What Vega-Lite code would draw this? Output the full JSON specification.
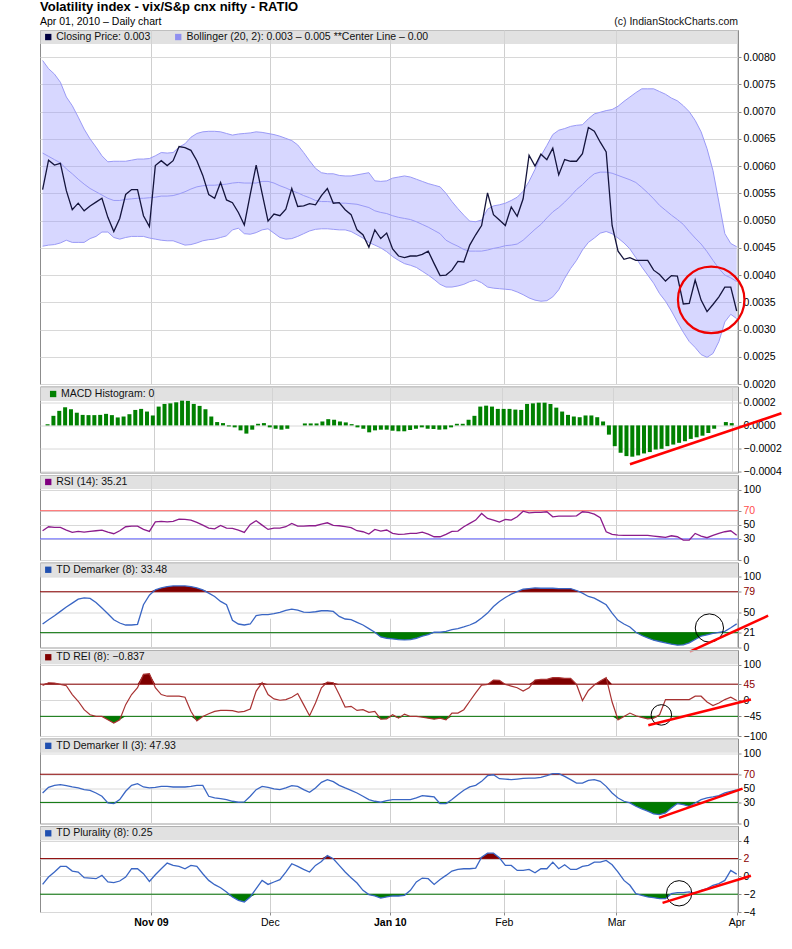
{
"$schema":"https://vega.github.io/schema/vega-lite/v6.json",
"background":"white",
"padding":{"left":32,"top":0,"right":0,"bottom":0},
"title":{"text":"Volatility index - vix/S&p cnx nifty - RATIO","subtitle":"Apr 01, 2010 – Daily chart","anchor":"start","frame":"group","font":"Liberation Sans","fontSize":13,"fontWeight":"bold","color":"#000000","subtitleFont":"Liberation Sans","subtitleFontSize":10.5,"subtitleColor":"#000000","subtitlePadding":3,"offset":-11},
"config":{"view":{"stroke":"#8c8c8c","strokeWidth":1}},
"data":{"values":[
{"i":0,"c":0.00557,"u":0.00794,"m":0.00624,"l":0.00453,"h":0.00001,"r":41.5,"d":33.3,"e":41.5,"d2":43.4,"p":-0.9},
{"i":1,"c":0.00611,"u":0.00779,"m":0.00618,"l":0.00455,"h":0.000083,"r":47.2,"d":39.4,"e":49,"d2":51.4,"p":-0.07},
{"i":2,"c":0.00602,"u":0.00769,"m":0.00612,"l":0.00456,"h":0.000126,"r":46.2,"d":45.1,"e":48,"d2":54.2,"p":0.49},
{"i":3,"c":0.00605,"u":0.00754,"m":0.00606,"l":0.00459,"h":0.000157,"r":46.2,"d":51.2,"e":44.3,"d2":55.2,"p":1.12},
{"i":4,"c":0.00555,"u":0.00727,"m":0.00595,"l":0.00464,"h":0.00014,"r":42.5,"d":57.3,"e":40.6,"d2":53.8,"p":1.12},
{"i":5,"c":0.0052,"u":0.00711,"m":0.00586,"l":0.0046,"h":0.00011,"r":39.2,"d":62.9,"e":16,"d2":51.9,"p":0.6},
{"i":6,"c":0.00532,"u":0.0069,"m":0.00576,"l":0.0046,"h":0.000091,"r":40.6,"d":68.5,"e":-2.8,"d2":50.5,"p":0.49},
{"i":7,"c":0.00518,"u":0.00668,"m":0.00567,"l":0.0046,"h":0.000089,"r":39.6,"d":70.4,"e":-26.4,"d2":48.1,"p":-0.15},
{"i":8,"c":0.00527,"u":0.0065,"m":0.00559,"l":0.00467,"h":0.000089,"r":40.6,"d":69.5,"e":-40.6,"d2":47.2,"p":-0.19},
{"i":9,"c":0.00534,"u":0.00635,"m":0.00553,"l":0.00471,"h":0.000091,"r":41.5,"d":63.8,"e":-45.3,"d2":43.4,"p":-0.26},
{"i":10,"c":0.00541,"u":0.00619,"m":0.00547,"l":0.00479,"h":0.0001,"r":42.5,"d":55.9,"e":-45.3,"d2":38.7,"p":0.11},
{"i":11,"c":0.00506,"u":0.00608,"m":0.00541,"l":0.00479,"h":0.000089,"r":39.6,"d":47.9,"e":-54.7,"d2":29.2,"p":-0.63},
{"i":12,"c":0.0048,"u":0.00609,"m":0.00537,"l":0.00469,"h":0.000069,"r":37.3,"d":39.4,"e":-64,"d2":28.3,"p":-0.71},
{"i":13,"c":0.00504,"u":0.00609,"m":0.00537,"l":0.00466,"h":0.000077,"r":41.5,"d":34.7,"e":-54.7,"d2":34,"p":-0.52},
{"i":14,"c":0.00548,"u":0.00609,"m":0.00539,"l":0.00469,"h":0.000097,"r":47.2,"d":31.9,"e":-12.3,"d2":45.8,"p":-0.07},
{"i":15,"c":0.00557,"u":0.00611,"m":0.0054,"l":0.00471,"h":0.000134,"r":48.1,"d":31.9,"e":16,"d2":54.2,"p":0.86},
{"i":16,"c":0.00557,"u":0.00613,"m":0.00541,"l":0.00471,"h":0.000143,"r":48.1,"d":32.9,"e":35,"d2":56.6,"p":0.86},
{"i":17,"c":0.00509,"u":0.00613,"m":0.00541,"l":0.00471,"h":0.00012,"r":43.4,"d":60.6,"e":72.6,"d2":51.9,"p":0.3},
{"i":18,"c":0.00489,"u":0.00614,"m":0.00542,"l":0.00468,"h":0.000086,"r":40.6,"d":74.2,"e":74.5,"d2":50.5,"p":-0.56},
{"i":19,"c":0.00601,"u":0.00619,"m":0.00543,"l":0.00466,"h":0.000163,"r":54.2,"d":81.7,"e":35,"d2":51.4,"p":0.19},
{"i":20,"c":0.0061,"u":0.00625,"m":0.00545,"l":0.00464,"h":0.000186,"r":54.7,"d":84.5,"e":16,"d2":52.8,"p":0.86},
{"i":21,"c":0.00601,"u":0.00624,"m":0.00545,"l":0.00463,"h":0.000191,"r":54.2,"d":86.4,"e":11.3,"d2":52.8,"p":1.49},
{"i":22,"c":0.0061,"u":0.00625,"m":0.00546,"l":0.00463,"h":0.0002,"r":54.7,"d":87.3,"e":11.3,"d2":51.9,"p":1.23},
{"i":23,"c":0.00636,"u":0.00635,"m":0.00549,"l":0.00459,"h":0.00022,"r":58,"d":87.3,"e":11.3,"d2":51.9,"p":1.12},
{"i":24,"c":0.00634,"u":0.00641,"m":0.00553,"l":0.00455,"h":0.000214,"r":57.5,"d":87.3,"e":8.5,"d2":51.9,"p":0.86},
{"i":25,"c":0.00629,"u":0.00653,"m":0.00558,"l":0.00456,"h":0.000186,"r":56.6,"d":86.4,"e":-31,"d2":52.8,"p":1.23},
{"i":26,"c":0.0061,"u":0.0066,"m":0.00562,"l":0.00459,"h":0.000169,"r":53.3,"d":84.5,"e":-57.5,"d2":54.2,"p":1.12},
{"i":27,"c":0.00583,"u":0.00663,"m":0.00564,"l":0.00463,"h":0.00014,"r":49.5,"d":81.7,"e":-45.3,"d2":54.2,"p":0.3},
{"i":28,"c":0.00548,"u":0.00664,"m":0.00565,"l":0.00465,"h":0.000077,"r":45.3,"d":77,"e":-37.7,"d2":38.7,"p":-0.45},
{"i":29,"c":0.00541,"u":0.00664,"m":0.00565,"l":0.00466,"h":0.000029,"r":44.3,"d":72.3,"e":-31,"d2":36.3,"p":-0.93},
{"i":30,"c":0.0057,"u":0.00663,"m":0.00566,"l":0.00469,"h":0.00002,"r":49.1,"d":65.3,"e":-28.3,"d2":35.4,"p":-1.27},
{"i":31,"c":0.00538,"u":0.0066,"m":0.00567,"l":0.00472,"h":-0.000009,"r":45.3,"d":60.6,"e":-28.3,"d2":34,"p":-1.75},
{"i":32,"c":0.00533,"u":0.00657,"m":0.00569,"l":0.00483,"h":-0.000017,"r":44.8,"d":38.5,"e":-29.2,"d2":31.6,"p":-2.31},
{"i":33,"c":0.00515,"u":0.00659,"m":0.0057,"l":0.00486,"h":-0.000043,"r":42.5,"d":33.3,"e":-33,"d2":30.2,"p":-2.69},
{"i":34,"c":0.00492,"u":0.0066,"m":0.00569,"l":0.00476,"h":-0.000071,"r":39.2,"d":31.9,"e":-31,"d2":30.7,"p":-2.87},
{"i":35,"c":0.00548,"u":0.00661,"m":0.00569,"l":0.00475,"h":-0.000037,"r":50.5,"d":33.3,"e":-24.5,"d2":38.7,"p":-2.31},
{"i":36,"c":0.00602,"u":0.00663,"m":0.00569,"l":0.00478,"h":0.000014,"r":55.7,"d":45.1,"e":25.5,"d2":48.1,"p":-1.38},
{"i":37,"c":0.0055,"u":0.00662,"m":0.00572,"l":0.00483,"h":0.00002,"r":49.5,"d":46.5,"e":49,"d2":52.8,"p":-0.45},
{"i":38,"c":0.00499,"u":0.0066,"m":0.00572,"l":0.00485,"h":-0.000017,"r":43.4,"d":46.5,"e":16,"d2":51.4,"p":-0.9},
{"i":39,"c":0.00512,"u":0.00658,"m":0.00569,"l":0.00477,"h":-0.000029,"r":45.3,"d":47.9,"e":3.8,"d2":49.1,"p":-0.63},
{"i":40,"c":0.00509,"u":0.00655,"m":0.00564,"l":0.00469,"h":-0.000037,"r":45.3,"d":49.8,"e":0,"d2":48.1,"p":-0.37},
{"i":41,"c":0.00521,"u":0.00651,"m":0.0056,"l":0.00466,"h":-0.000029,"r":47.2,"d":52.6,"e":1.9,"d2":50.5,"p":0.49},
{"i":42,"c":0.00559,"u":0.00647,"m":0.00555,"l":0.00467,"h":0,"r":51.9,"d":54.5,"e":8.5,"d2":53.8,"p":1.42},
{"i":43,"c":0.00526,"u":0.00639,"m":0.00551,"l":0.00471,"h":0,"r":48.1,"d":53,"e":18.9,"d2":52.8,"p":1.12},
{"i":44,"c":0.00527,"u":0.00625,"m":0.00546,"l":0.00476,"h":0.000017,"r":48.1,"d":50.2,"e":-12.3,"d2":48.1,"p":0.78},
{"i":45,"c":0.00531,"u":0.0061,"m":0.00542,"l":0.00481,"h":0.000017,"r":48.6,"d":49.8,"e":-43.4,"d2":44.3,"p":0.49},
{"i":46,"c":0.00529,"u":0.00596,"m":0.00537,"l":0.00484,"h":0.000017,"r":48.6,"d":50.7,"e":-7.5,"d2":50.5,"p":1.23},
{"i":47,"c":0.00546,"u":0.00588,"m":0.00535,"l":0.00485,"h":0.000034,"r":50.9,"d":52.1,"e":35,"d2":58.5,"p":1.68},
{"i":48,"c":0.00559,"u":0.00586,"m":0.00535,"l":0.00485,"h":0.000054,"r":52.8,"d":52.1,"e":51,"d2":62.3,"p":2.35},
{"i":49,"c":0.00532,"u":0.00586,"m":0.00534,"l":0.00484,"h":0.000049,"r":49.1,"d":51.2,"e":49,"d2":59.4,"p":1.98},
{"i":50,"c":0.00533,"u":0.00583,"m":0.00532,"l":0.00483,"h":0.000034,"r":48.6,"d":44.1,"e":16,"d2":54.2,"p":1.23},
{"i":51,"c":0.0052,"u":0.00582,"m":0.00532,"l":0.00483,"h":0.000026,"r":47.2,"d":40.4,"e":-18.9,"d2":50.5,"p":0.49},
{"i":52,"c":0.00511,"u":0.00582,"m":0.00531,"l":0.0048,"h":0.000011,"r":45.8,"d":39.4,"e":-17,"d2":47.2,"p":-0.15},
{"i":53,"c":0.00483,"u":0.00584,"m":0.0053,"l":0.00474,"h":-0.000017,"r":41.5,"d":35.7,"e":-28.3,"d2":43.4,"p":-0.75},
{"i":54,"c":0.00474,"u":0.00586,"m":0.00527,"l":0.00468,"h":-0.000029,"r":40.1,"d":31.9,"e":-26.4,"d2":38.7,"p":-1.57},
{"i":55,"c":0.00451,"u":0.00588,"m":0.00524,"l":0.0046,"h":-0.00006,"r":36.8,"d":26.8,"e":-34,"d2":34,"p":-2.05},
{"i":56,"c":0.00483,"u":0.00573,"m":0.00518,"l":0.00455,"h":-0.000043,"r":43.4,"d":21.6,"e":-31,"d2":31.6,"p":-2.2},
{"i":57,"c":0.00467,"u":0.00572,"m":0.00515,"l":0.0045,"h":-0.000037,"r":41,"d":15,"e":-52.8,"d2":30.2,"p":-2.43},
{"i":58,"c":0.00477,"u":0.00573,"m":0.00513,"l":0.00443,"h":-0.000037,"r":42.5,"d":13.1,"e":-51.9,"d2":32.5,"p":-2.31},
{"i":59,"c":0.00448,"u":0.00578,"m":0.00509,"l":0.00434,"h":-0.000046,"r":37.7,"d":12.2,"e":-40.6,"d2":34,"p":-2.2},
{"i":60,"c":0.00435,"u":0.0058,"m":0.00506,"l":0.00427,"h":-0.000051,"r":36.3,"d":11.3,"e":-50,"d2":34,"p":-2.2},
{"i":61,"c":0.00432,"u":0.00582,"m":0.00504,"l":0.00421,"h":-0.000051,"r":36.8,"d":10.8,"e":-38.7,"d2":34,"p":-2.13},
{"i":62,"c":0.00435,"u":0.0058,"m":0.00502,"l":0.00418,"h":-0.00004,"r":37.7,"d":11.3,"e":-45.3,"d2":34,"p":-1.57},
{"i":63,"c":0.00435,"u":0.00576,"m":0.00498,"l":0.00414,"h":-0.000029,"r":37.7,"d":13.1,"e":-45.3,"d2":36.3,"p":-0.63},
{"i":64,"c":0.00438,"u":0.00572,"m":0.00493,"l":0.00407,"h":-0.000017,"r":39.6,"d":16,"e":-47.2,"d2":39.6,"p":-0.19},
{"i":65,"c":0.00444,"u":0.00568,"m":0.00488,"l":0.004,"h":-0.000029,"r":36.8,"d":18.3,"e":-50,"d2":38.7,"p":-0.26},
{"i":66,"c":0.00421,"u":0.00565,"m":0.00482,"l":0.00392,"h":-0.000031,"r":33,"d":21.6,"e":-52.8,"d2":37.7,"p":-0.9},
{"i":67,"c":0.00399,"u":0.00562,"m":0.00476,"l":0.00383,"h":-0.000037,"r":33,"d":21.6,"e":-50,"d2":28.3,"p":-0.34},
{"i":68,"c":0.004,"u":0.0055,"m":0.00464,"l":0.00378,"h":-0.000034,"r":36.3,"d":23,"e":-54.7,"d2":28.3,"p":0.11},
{"i":69,"c":0.00409,"u":0.00535,"m":0.00458,"l":0.00378,"h":-0.000017,"r":40.6,"d":25.4,"e":-35.8,"d2":34,"p":0.6},
{"i":70,"c":0.00425,"u":0.00522,"m":0.00453,"l":0.0038,"h":0.000014,"r":41,"d":26.8,"e":-35.8,"d2":41,"p":0.78},
{"i":71,"c":0.00424,"u":0.0051,"m":0.00447,"l":0.00383,"h":0.000014,"r":47.2,"d":29.1,"e":-26.4,"d2":47.2,"p":0.86},
{"i":72,"c":0.00455,"u":0.00499,"m":0.00444,"l":0.00388,"h":0.000049,"r":51.9,"d":31.9,"e":-2.8,"d2":51.9,"p":0.86},
{"i":73,"c":0.00474,"u":0.00498,"m":0.00444,"l":0.00391,"h":0.000083,"r":56.6,"d":35.7,"e":20.8,"d2":54.2,"p":0.93},
{"i":74,"c":0.00491,"u":0.00501,"m":0.00444,"l":0.00386,"h":0.000163,"r":66,"d":41.8,"e":42.5,"d2":59.9,"p":2.16},
{"i":75,"c":0.00551,"u":0.00521,"m":0.00446,"l":0.00378,"h":0.000171,"r":59,"d":48.8,"e":44.3,"d2":67.9,"p":2.61},
{"i":76,"c":0.00511,"u":0.00527,"m":0.00449,"l":0.00376,"h":0.000163,"r":56.6,"d":58.2,"e":56.6,"d2":69.3,"p":2.61},
{"i":77,"c":0.00501,"u":0.00529,"m":0.00451,"l":0.00375,"h":0.000143,"r":53.8,"d":65.3,"e":55.7,"d2":63.7,"p":2.09},
{"i":78,"c":0.00491,"u":0.00532,"m":0.00454,"l":0.00374,"h":0.000143,"r":57.5,"d":70.9,"e":44.3,"d2":63.2,"p":1.23},
{"i":79,"c":0.00525,"u":0.00537,"m":0.00455,"l":0.00373,"h":0.000143,"r":56.6,"d":75.6,"e":39.6,"d2":62.3,"p":1.23},
{"i":80,"c":0.00508,"u":0.00543,"m":0.00457,"l":0.00369,"h":0.000137,"r":61.3,"d":79.3,"e":35,"d2":63.2,"p":0.67},
{"i":81,"c":0.0054,"u":0.00554,"m":0.00464,"l":0.00364,"h":0.000134,"r":69.3,"d":82.6,"e":25.5,"d2":64.2,"p":0.67},
{"i":82,"c":0.0062,"u":0.00572,"m":0.00474,"l":0.00358,"h":0.000186,"r":67,"d":83.6,"e":35,"d2":64.6,"p":0.78},
{"i":83,"c":0.006,"u":0.00594,"m":0.00484,"l":0.00354,"h":0.000191,"r":67.5,"d":84.5,"e":56.6,"d2":64.6,"p":0.41},
{"i":84,"c":0.00622,"u":0.00619,"m":0.00493,"l":0.00352,"h":0.000197,"r":67.5,"d":84,"e":58.5,"d2":65.6,"p":0.86},
{"i":85,"c":0.00612,"u":0.00638,"m":0.00505,"l":0.00353,"h":0.000197,"r":68.4,"d":84,"e":58.5,"d2":67.9,"p":0.86},
{"i":86,"c":0.00633,"u":0.00658,"m":0.00516,"l":0.0036,"h":0.000186,"r":61.3,"d":84,"e":63.2,"d2":70.8,"p":1.6},
{"i":87,"c":0.00584,"u":0.00666,"m":0.00524,"l":0.00373,"h":0.000154,"r":62.3,"d":83.6,"e":63.2,"d2":70.8,"p":0.86},
{"i":88,"c":0.00612,"u":0.00669,"m":0.00534,"l":0.00394,"h":0.00012,"r":62.3,"d":83.6,"e":61.3,"d2":67,"p":1.31},
{"i":89,"c":0.00609,"u":0.00673,"m":0.00545,"l":0.00412,"h":0.000091,"r":62.3,"d":83.6,"e":61.3,"d2":62.3,"p":0.78},
{"i":90,"c":0.00609,"u":0.00675,"m":0.00557,"l":0.00427,"h":0.000077,"r":62.7,"d":80.8,"e":44.3,"d2":57.5,"p":0.78},
{"i":91,"c":0.00623,"u":0.00676,"m":0.00566,"l":0.00446,"h":0.000071,"r":68.4,"d":77,"e":-0.9,"d2":57.5,"p":1.12},
{"i":92,"c":0.00671,"u":0.00687,"m":0.00577,"l":0.0046,"h":0.000086,"r":67.5,"d":72.3,"e":27.4,"d2":61.3,"p":1.23},
{"i":93,"c":0.00664,"u":0.00696,"m":0.00586,"l":0.00468,"h":0.000086,"r":65.1,"d":70,"e":42.5,"d2":62.3,"p":1.6},
{"i":94,"c":0.00644,"u":0.00699,"m":0.00589,"l":0.00477,"h":0.000071,"r":59.9,"d":65.3,"e":53.8,"d2":59.9,"p":1.6},
{"i":95,"c":0.00626,"u":0.00702,"m":0.00589,"l":0.0048,"h":0.000034,"r":40.1,"d":60.6,"e":63.2,"d2":52.8,"p":1.79},
{"i":96,"c":0.00491,"u":0.00704,"m":0.00587,"l":0.00476,"h":-0.00008,"r":36.3,"d":48.8,"e":-5,"d2":43.4,"p":1.31},
{"i":97,"c":0.00444,"u":0.0071,"m":0.00583,"l":0.00468,"h":-0.00018,"r":35.4,"d":38.5,"e":-54.7,"d2":36.3,"p":0.49},
{"i":98,"c":0.00429,"u":0.00719,"m":0.00579,"l":0.00459,"h":-0.000237,"r":34.9,"d":33.3,"e":-45.3,"d2":31.6,"p":-0.45},
{"i":99,"c":0.00432,"u":0.00727,"m":0.00575,"l":0.00448,"h":-0.000266,"r":34.9,"d":29.1,"e":-35.8,"d2":29.2,"p":-1},
{"i":100,"c":0.00427,"u":0.00735,"m":0.0057,"l":0.00432,"h":-0.000271,"r":34.9,"d":21.5,"e":-43.4,"d2":24.5,"p":-1.94},
{"i":101,"c":0.00427,"u":0.00742,"m":0.00561,"l":0.00415,"h":-0.00026,"r":34.9,"d":17,"e":-48.1,"d2":20.8,"p":-2.13},
{"i":102,"c":0.00427,"u":0.00742,"m":0.00551,"l":0.004,"h":-0.000243,"r":34.9,"d":13.6,"e":-51.9,"d2":17.5,"p":-2.31},
{"i":103,"c":0.00409,"u":0.00742,"m":0.0054,"l":0.00385,"h":-0.000231,"r":34,"d":10.3,"e":-50,"d2":13.7,"p":-2.39},
{"i":104,"c":0.00401,"u":0.00737,"m":0.00528,"l":0.00366,"h":-0.000209,"r":33,"d":8.5,"e":-40.6,"d2":12.7,"p":-2.5},
{"i":105,"c":0.00389,"u":0.00732,"m":0.00519,"l":0.00352,"h":-0.000203,"r":32.1,"d":6.6,"e":1.9,"d2":15.1,"p":-2.5},
{"i":106,"c":0.00399,"u":0.00725,"m":0.0051,"l":0.00334,"h":-0.00018,"r":34.4,"d":4.7,"e":1.9,"d2":22.2,"p":-1.94},
{"i":107,"c":0.00398,"u":0.0072,"m":0.00502,"l":0.00314,"h":-0.000166,"r":33,"d":3.3,"e":1.9,"d2":28.3,"p":-1.83},
{"i":108,"c":0.00347,"u":0.00711,"m":0.00493,"l":0.00295,"h":-0.000151,"r":28.3,"d":3.8,"e":1.9,"d2":26.9,"p":-1.83},
{"i":109,"c":0.00348,"u":0.007,"m":0.0048,"l":0.00278,"h":-0.000137,"r":28.3,"d":6.6,"e":1.9,"d2":24.5,"p":-1.75},
{"i":110,"c":0.00391,"u":0.00684,"m":0.00468,"l":0.00267,"h":-0.000117,"r":37.7,"d":11.3,"e":11.3,"d2":29.2,"p":-1.94},
{"i":111,"c":0.00354,"u":0.00663,"m":0.00457,"l":0.00254,"h":-0.000103,"r":34,"d":16,"e":11.3,"d2":34,"p":-1.57},
{"i":112,"c":0.00333,"u":0.00632,"m":0.00443,"l":0.00249,"h":-0.000089,"r":31.6,"d":18,"e":-4.7,"d2":36.3,"p":-1.38},
{"i":113,"c":0.00346,"u":0.00592,"m":0.00427,"l":0.00256,"h":-0.000066,"r":34.9,"d":20,"e":-15,"d2":37.7,"p":-1},
{"i":114,"c":0.0036,"u":0.00534,"m":0.00412,"l":0.00278,"h":-0.000029,"r":37.7,"d":21.5,"e":-7.5,"d2":39.6,"p":-0.82},
{"i":115,"c":0.00378,"u":0.00476,"m":0.004,"l":0.00314,"h":0,"r":40.1,"d":23,"e":1.9,"d2":43.4,"p":-0.45},
{"i":116,"c":0.00378,"u":0.00458,"m":0.00395,"l":0.00328,"h":0.000029,"r":41.5,"d":28,"e":8.5,"d2":45.8,"p":0.67},
{"i":117,"c":0.00334,"u":0.00452,"m":0.00388,"l":0.0032,"h":0.00002,"r":35.21,"d":33.48,"e":-0.837,"d2":47.93,"p":0.25}
]},
"spacing":2.5,
"bounds":"flush",
"vconcat":[
{"width":698,"height":354,
 "resolve":{"scale":{"y":"independent"}},
 "layer":[
  {"mark":{"type":"area","color":"#9c9cff","opacity":0.4},"encoding":{"x":{"field":"i","type":"quantitative","scale":{"domain":[-0.44,117.22],"nice":false,"zero":false}},"y":{"field":"u","type":"quantitative","scale":{"domain":[0.002,0.0085],"nice":false,"zero":false},"axis":null},"y2":{"field":"l"}}},
  {"mark":{"type":"line","color":"#9a9af6","strokeWidth":1},"encoding":{"x":{"field":"i","type":"quantitative"},"y":{"field":"u","type":"quantitative","scale":{"domain":[0.002,0.0085],"nice":false,"zero":false},"axis":null}}},
  {"mark":{"type":"line","color":"#9a9af6","strokeWidth":1},"encoding":{"x":{"field":"i","type":"quantitative"},"y":{"field":"l","type":"quantitative","scale":{"domain":[0.002,0.0085],"nice":false,"zero":false},"axis":null}}},
  {"mark":{"type":"line","color":"#9a9af6","strokeWidth":1},"encoding":{"x":{"field":"i","type":"quantitative"},"y":{"field":"m","type":"quantitative","scale":{"domain":[0.002,0.0085],"nice":false,"zero":false},"axis":null}}},
  {"mark":{"type":"line","color":"#14143c","strokeWidth":1.3},"encoding":{"x":{"field":"i","type":"quantitative","scale":{"domain":[-0.44,117.22],"nice":false,"zero":false},"axis":{"values":[18.26,38.3,58.53,77.74,96.7,116.97],"grid":true,"gridColor":"#cfcfcf","labels":false,"ticks":false,"domain":false,"title":null}},"y":{"field":"c","type":"quantitative","scale":{"domain":[0.002,0.0085],"nice":false,"zero":false},"axis":{"orient":"right","values":[0.002,0.0025,0.003,0.0035,0.004,0.0045,0.005,0.0055,0.006,0.0065,0.007,0.0075,0.008],"format":".4f","grid":true,"gridColor":"#d8d8d8","domain":false,"tickSize":3,"tickColor":"#8c8c8c","labelFont":"Liberation Sans","labelFontSize":10.5,"labelColor":"#000000","labelPadding":2,"labelOverlap":false,"labelFlush":false,"title":null}}}},
  {"data":{"values":[{"k":0}]},"mark":{"type":"rule","color":"#d4d4d4","strokeWidth":14,"opacity":0.7},"encoding":{"y":{"datum":0.008371,"scale":{"domain":[0.002,0.0085],"nice":false,"zero":false},"axis":null}}},
  {"data":{"values":[{"k":0}]},"mark":{"type":"point","shape":"circle","size":4420,"filled":false,"color":"#ee0000","strokeWidth":2.2,"opacity":1},"encoding":{"x":{"datum":112.7},"y":{"datum":0.003545,"scale":{"domain":[0.002,0.0085],"nice":false,"zero":false},"axis":null}}},
  {"data":{"values":[{"k":0}]},"mark":{"type":"point","shape":"square","size":40,"filled":true,"color":"#000040","opacity":1},"encoding":{"x":{"datum":0.95},"y":{"datum":0.008371,"scale":{"domain":[0.002,0.0085],"nice":false,"zero":false},"axis":null}}},
  {"data":{"values":[{"k":0}]},"mark":{"type":"text","align":"left","baseline":"middle","font":"Liberation Sans","fontSize":10.5,"color":"#111111","text":"Closing Price: 0.003"},"encoding":{"x":{"datum":2.3},"y":{"datum":0.008371,"scale":{"domain":[0.002,0.0085],"nice":false,"zero":false},"axis":null}}},
  {"data":{"values":[{"k":0}]},"mark":{"type":"point","shape":"square","size":40,"filled":true,"color":"#9090f0","opacity":1},"encoding":{"x":{"datum":22.86},"y":{"datum":0.008371,"scale":{"domain":[0.002,0.0085],"nice":false,"zero":false},"axis":null}}},
  {"data":{"values":[{"k":0}]},"mark":{"type":"text","align":"left","baseline":"middle","font":"Liberation Sans","fontSize":10.5,"color":"#111111","text":"Bollinger (20, 2): 0.003 – 0.005 **Center Line – 0.00"},"encoding":{"x":{"datum":24.26},"y":{"datum":0.008371,"scale":{"domain":[0.002,0.0085],"nice":false,"zero":false},"axis":null}}},
  {"data":{"values":[{"k":0}]},"mark":{"type":"text","align":"right","baseline":"alphabetic","font":"Liberation Sans","fontSize":10.5,"color":"#111111","text":"(c) IndianStockCharts.com"},"encoding":{"x":{"datum":117.22},"y":{"datum":0.008592,"scale":{"domain":[0.002,0.0085],"nice":false,"zero":false},"axis":null}}}
 ]},
{"width":698,"height":86,
 "resolve":{"scale":{"y":"independent"}},
 "layer":[
  {"mark":{"type":"bar","color":"#008000","size":4},"encoding":{"x":{"field":"i","type":"quantitative","scale":{"domain":[-0.44,117.22],"nice":false,"zero":false},"axis":{"values":[18.26,38.3,58.53,77.74,96.7,116.97],"grid":true,"gridColor":"#cfcfcf","labels":false,"ticks":false,"domain":false,"title":null}},"y":{"field":"h","type":"quantitative","scale":{"domain":[-0.000408,0.000337],"nice":false,"zero":false},"axis":{"orient":"right","values":[-0.0004,-0.0002,0,0.0002],"format":".4f","grid":true,"gridColor":"#d8d8d8","domain":false,"tickSize":3,"tickColor":"#8c8c8c","labelFont":"Liberation Sans","labelFontSize":10.5,"labelColor":"#000000","labelPadding":2,"labelOverlap":false,"labelFlush":false,"title":null}}}},
  {"data":{"values":[{"k":0}]},"mark":{"type":"rule","color":"#d4d4d4","strokeWidth":14,"opacity":0.7},"encoding":{"y":{"datum":0.000272,"scale":{"domain":[-0.000408,0.000337],"nice":false,"zero":false},"axis":null}}},
  {"data":{"values":[{"i":99.6,"v":-0.000337},{"i":125.5,"v":0.000105}]},"mark":{"type":"line","color":"#ff0000","strokeWidth":2.5},"encoding":{"x":{"field":"i","type":"quantitative"},"y":{"field":"v","type":"quantitative","scale":{"domain":[-0.000408,0.000337],"nice":false,"zero":false},"axis":null}}},
  {"data":{"values":[{"k":0}]},"mark":{"type":"point","shape":"square","size":40,"filled":true,"color":"#008000","opacity":1},"encoding":{"x":{"datum":0.95},"y":{"datum":0.000272,"scale":{"domain":[-0.000408,0.000337],"nice":false,"zero":false},"axis":null}}},
  {"data":{"values":[{"k":0}]},"mark":{"type":"text","align":"left","baseline":"middle","font":"Liberation Sans","fontSize":10.5,"color":"#111111","text":"MACD Histogram: 0"},"encoding":{"x":{"datum":2.3},"y":{"datum":0.000272,"scale":{"domain":[-0.000408,0.000337],"nice":false,"zero":false},"axis":null}}}
 ]},
{"width":698,"height":85,
 "resolve":{"scale":{"y":"independent"}},
 "layer":[
  {"data":{"values":[{"k":0}]},"mark":{"type":"rule","color":"#ff6666","strokeWidth":1},"encoding":{"y":{"datum":70,"scale":{"domain":[0,120.6],"nice":false,"zero":false},"axis":null}}},
  {"data":{"values":[{"k":0}]},"mark":{"type":"rule","color":"#6464ff","strokeWidth":1},"encoding":{"y":{"datum":30,"scale":{"domain":[0,120.6],"nice":false,"zero":false},"axis":null}}},
  {"mark":{"type":"line","color":"#8c1c8c","strokeWidth":1.3},"encoding":{"x":{"field":"i","type":"quantitative","scale":{"domain":[-0.44,117.22],"nice":false,"zero":false},"axis":{"values":[18.26,38.3,58.53,77.74,96.7,116.97],"grid":true,"gridColor":"#cfcfcf","labels":false,"ticks":false,"domain":false,"title":null}},"y":{"field":"r","type":"quantitative","scale":{"domain":[0,120.6],"nice":false,"zero":false},"axis":{"orient":"right","values":[0,30,50,70,100],"format":"d","grid":true,"gridColor":"#d8d8d8","domain":false,"tickSize":3,"tickColor":"#8c8c8c","labelFont":"Liberation Sans","labelFontSize":10.5,"labelColor":{"condition":{"test":"datum.value === 70","value":"#ff4d4d"},"value":"#000000"},"labelPadding":2,"labelOverlap":false,"labelFlush":false,"title":null}}}},
  {"data":{"values":[{"k":0}]},"mark":{"type":"rule","color":"#d4d4d4","strokeWidth":14,"opacity":0.7},"encoding":{"y":{"datum":110.7,"scale":{"domain":[0,120.6],"nice":false,"zero":false},"axis":null}}},
  {"data":{"values":[{"k":0}]},"mark":{"type":"point","shape":"square","size":40,"filled":true,"color":"#800080","opacity":1},"encoding":{"x":{"datum":0.95},"y":{"datum":110.7,"scale":{"domain":[0,120.6],"nice":false,"zero":false},"axis":null}}},
  {"data":{"values":[{"k":0}]},"mark":{"type":"text","align":"left","baseline":"middle","font":"Liberation Sans","fontSize":10.5,"color":"#111111","text":"RSI (14): 35.21"},"encoding":{"x":{"datum":2.3},"y":{"datum":110.7,"scale":{"domain":[0,120.6],"nice":false,"zero":false},"axis":null}}}
 ]},
{"width":698,"height":85,
 "resolve":{"scale":{"y":"independent"}},
 "layer":[
  {"mark":{"type":"area","color":"#7f0000"},"encoding":{"x":{"field":"i","type":"quantitative","scale":{"domain":[-0.44,117.22],"nice":false,"zero":false}},"y":{"field":"d","type":"quantitative","scale":{"domain":[79,120.5],"range":[29.27,0],"clamp":true,"nice":false,"zero":false},"axis":null},"y2":{"datum":79}}},
  {"mark":{"type":"area","color":"#007a00"},"encoding":{"x":{"field":"i","type":"quantitative"},"y":{"field":"d","type":"quantitative","scale":{"domain":[0,21],"range":[85,70.19],"clamp":true,"nice":false,"zero":false},"axis":null},"y2":{"datum":21}}},
  {"data":{"values":[{"k":0}]},"mark":{"type":"rule","color":"#8b0000","strokeWidth":1},"encoding":{"y":{"datum":79,"scale":{"domain":[0,120.5],"nice":false,"zero":false},"axis":null}}},
  {"data":{"values":[{"k":0}]},"mark":{"type":"rule","color":"#007000","strokeWidth":1},"encoding":{"y":{"datum":21,"scale":{"domain":[0,120.5],"nice":false,"zero":false},"axis":null}}},
  {"mark":{"type":"line","color":"#3a66c4","strokeWidth":1.3},"encoding":{"x":{"field":"i","type":"quantitative","scale":{"domain":[-0.44,117.22],"nice":false,"zero":false},"axis":{"values":[18.26,38.3,58.53,77.74,96.7,116.97],"grid":true,"gridColor":"#cfcfcf","labels":false,"ticks":false,"domain":false,"title":null}},"y":{"field":"d","type":"quantitative","scale":{"domain":[0,120.5],"nice":false,"zero":false},"axis":{"orient":"right","values":[0,21,50,79,100],"format":"d","grid":true,"gridColor":"#d8d8d8","domain":false,"tickSize":3,"tickColor":"#8c8c8c","labelFont":"Liberation Sans","labelFontSize":10.5,"labelColor":{"condition":{"test":"datum.value === 79","value":"#8b0000"},"value":"#000000"},"labelPadding":2,"labelOverlap":false,"labelFlush":false,"title":null}}}},
  {"data":{"values":[{"k":0}]},"mark":{"type":"rule","color":"#d4d4d4","strokeWidth":14,"opacity":0.7},"encoding":{"y":{"datum":110.2,"scale":{"domain":[0,120.5],"nice":false,"zero":false},"axis":null}}},
  {"data":{"values":[{"k":0}]},"mark":{"type":"point","shape":"circle","size":800,"filled":false,"color":"#000000","strokeWidth":1,"opacity":1},"encoding":{"x":{"datum":112.4},"y":{"datum":27.6,"scale":{"domain":[0,120.5],"nice":false,"zero":false},"axis":null}}},
  {"data":{"values":[{"i":109.1,"v":-5.9},{"i":122.3,"v":45.1}]},"mark":{"type":"line","color":"#ff0000","strokeWidth":2.5},"encoding":{"x":{"field":"i","type":"quantitative"},"y":{"field":"v","type":"quantitative","scale":{"domain":[0,120.5],"nice":false,"zero":false},"axis":null}}},
  {"data":{"values":[{"k":0}]},"mark":{"type":"point","shape":"square","size":40,"filled":true,"color":"#2050b0","opacity":1},"encoding":{"x":{"datum":0.95},"y":{"datum":110.2,"scale":{"domain":[0,120.5],"nice":false,"zero":false},"axis":null}}},
  {"data":{"values":[{"k":0}]},"mark":{"type":"text","align":"left","baseline":"middle","font":"Liberation Sans","fontSize":10.5,"color":"#111111","text":"TD Demarker (8): 33.48"},"encoding":{"x":{"datum":2.3},"y":{"datum":110.2,"scale":{"domain":[0,120.5],"nice":false,"zero":false},"axis":null}}}
 ]},
{"width":698,"height":86,
 "resolve":{"scale":{"y":"independent"}},
 "layer":[
  {"mark":{"type":"area","color":"#7f0000"},"encoding":{"x":{"field":"i","type":"quantitative","scale":{"domain":[-0.44,117.22],"nice":false,"zero":false}},"y":{"field":"e","type":"quantitative","scale":{"domain":[45,140.6],"range":[34.17,0],"clamp":true,"nice":false,"zero":false},"axis":null},"y2":{"datum":45}}},
  {"mark":{"type":"area","color":"#007a00"},"encoding":{"x":{"field":"i","type":"quantitative"},"y":{"field":"e","type":"quantitative","scale":{"domain":[-100,-45],"range":[86,66.34],"clamp":true,"nice":false,"zero":false},"axis":null},"y2":{"datum":-45}}},
  {"data":{"values":[{"k":0}]},"mark":{"type":"rule","color":"#8b0000","strokeWidth":1},"encoding":{"y":{"datum":45,"scale":{"domain":[-100,140.6],"nice":false,"zero":false},"axis":null}}},
  {"data":{"values":[{"k":0}]},"mark":{"type":"rule","color":"#007000","strokeWidth":1},"encoding":{"y":{"datum":-45,"scale":{"domain":[-100,140.6],"nice":false,"zero":false},"axis":null}}},
  {"mark":{"type":"line","color":"#a83232","strokeWidth":1.2},"encoding":{"x":{"field":"i","type":"quantitative","scale":{"domain":[-0.44,117.22],"nice":false,"zero":false},"axis":{"values":[18.26,38.3,58.53,77.74,96.7,116.97],"grid":true,"gridColor":"#cfcfcf","labels":false,"ticks":false,"domain":false,"title":null}},"y":{"field":"e","type":"quantitative","scale":{"domain":[-100,140.6],"nice":false,"zero":false},"axis":{"orient":"right","values":[-100,-45,0,45,100],"format":"d","grid":true,"gridColor":"#d8d8d8","domain":false,"tickSize":3,"tickColor":"#8c8c8c","labelFont":"Liberation Sans","labelFontSize":10.5,"labelColor":{"condition":{"test":"datum.value === 45","value":"#8b0000"},"value":"#000000"},"labelPadding":2,"labelOverlap":false,"labelFlush":false,"title":null}}}},
  {"data":{"values":[{"k":0}]},"mark":{"type":"rule","color":"#d4d4d4","strokeWidth":14,"opacity":0.7},"encoding":{"y":{"datum":120.3,"scale":{"domain":[-100,140.6],"nice":false,"zero":false},"axis":null}}},
  {"data":{"values":[{"k":0}]},"mark":{"type":"point","shape":"circle","size":420,"filled":false,"color":"#000000","strokeWidth":1,"opacity":1},"encoding":{"x":{"datum":104.3},"y":{"datum":-41,"scale":{"domain":[-100,140.6],"nice":false,"zero":false},"axis":null}}},
  {"data":{"values":[{"i":102.1,"v":-70},{"i":119.4,"v":2}]},"mark":{"type":"line","color":"#ff0000","strokeWidth":2.5},"encoding":{"x":{"field":"i","type":"quantitative"},"y":{"field":"v","type":"quantitative","scale":{"domain":[-100,140.6],"nice":false,"zero":false},"axis":null}}},
  {"data":{"values":[{"k":0}]},"mark":{"type":"point","shape":"square","size":40,"filled":true,"color":"#800000","opacity":1},"encoding":{"x":{"datum":0.95},"y":{"datum":120.3,"scale":{"domain":[-100,140.6],"nice":false,"zero":false},"axis":null}}},
  {"data":{"values":[{"k":0}]},"mark":{"type":"text","align":"left","baseline":"middle","font":"Liberation Sans","fontSize":10.5,"color":"#111111","text":"TD REI (8): −0.837"},"encoding":{"x":{"datum":2.3},"y":{"datum":120.3,"scale":{"domain":[-100,140.6],"nice":false,"zero":false},"axis":null}}}
 ]},
{"width":698,"height":85,
 "resolve":{"scale":{"y":"independent"}},
 "layer":[
  {"mark":{"type":"area","color":"#7f0000"},"encoding":{"x":{"field":"i","type":"quantitative","scale":{"domain":[-0.44,117.22],"nice":false,"zero":false}},"y":{"field":"d2","type":"quantitative","scale":{"domain":[70,120.8],"range":[35.74,0],"clamp":true,"nice":false,"zero":false},"axis":null},"y2":{"datum":70}}},
  {"mark":{"type":"area","color":"#007a00"},"encoding":{"x":{"field":"i","type":"quantitative"},"y":{"field":"d2","type":"quantitative","scale":{"domain":[0,30],"range":[85,63.89],"clamp":true,"nice":false,"zero":false},"axis":null},"y2":{"datum":30}}},
  {"data":{"values":[{"k":0}]},"mark":{"type":"rule","color":"#8b0000","strokeWidth":1},"encoding":{"y":{"datum":70,"scale":{"domain":[0,120.8],"nice":false,"zero":false},"axis":null}}},
  {"data":{"values":[{"k":0}]},"mark":{"type":"rule","color":"#007000","strokeWidth":1},"encoding":{"y":{"datum":30,"scale":{"domain":[0,120.8],"nice":false,"zero":false},"axis":null}}},
  {"mark":{"type":"line","color":"#3a66c4","strokeWidth":1.3},"encoding":{"x":{"field":"i","type":"quantitative","scale":{"domain":[-0.44,117.22],"nice":false,"zero":false},"axis":{"values":[18.26,38.3,58.53,77.74,96.7,116.97],"grid":true,"gridColor":"#cfcfcf","labels":false,"ticks":false,"domain":false,"title":null}},"y":{"field":"d2","type":"quantitative","scale":{"domain":[0,120.8],"nice":false,"zero":false},"axis":{"orient":"right","values":[0,30,50,70,100],"format":"d","grid":true,"gridColor":"#d8d8d8","domain":false,"tickSize":3,"tickColor":"#8c8c8c","labelFont":"Liberation Sans","labelFontSize":10.5,"labelColor":{"condition":{"test":"datum.value === 70","value":"#8b0000"},"value":"#000000"},"labelPadding":2,"labelOverlap":false,"labelFlush":false,"title":null}}}},
  {"data":{"values":[{"k":0}]},"mark":{"type":"rule","color":"#d4d4d4","strokeWidth":14,"opacity":0.7},"encoding":{"y":{"datum":110.4,"scale":{"domain":[0,120.8],"nice":false,"zero":false},"axis":null}}},
  {"data":{"values":[{"i":103.9,"v":7.9},{"i":118,"v":49.5}]},"mark":{"type":"line","color":"#ff0000","strokeWidth":2.5},"encoding":{"x":{"field":"i","type":"quantitative"},"y":{"field":"v","type":"quantitative","scale":{"domain":[0,120.8],"nice":false,"zero":false},"axis":null}}},
  {"data":{"values":[{"k":0}]},"mark":{"type":"point","shape":"square","size":40,"filled":true,"color":"#2050b0","opacity":1},"encoding":{"x":{"datum":0.95},"y":{"datum":110.4,"scale":{"domain":[0,120.8],"nice":false,"zero":false},"axis":null}}},
  {"data":{"values":[{"k":0}]},"mark":{"type":"text","align":"left","baseline":"middle","font":"Liberation Sans","fontSize":10.5,"color":"#111111","text":"TD Demarker II (3): 47.93"},"encoding":{"x":{"datum":2.3},"y":{"datum":110.4,"scale":{"domain":[0,120.8],"nice":false,"zero":false},"axis":null}}}
 ]},
{"width":698,"height":86,
 "resolve":{"scale":{"y":"independent"}},
 "layer":[
  {"mark":{"type":"area","color":"#7f0000"},"encoding":{"x":{"field":"i","type":"quantitative","scale":{"domain":[-0.44,117.22],"nice":false,"zero":false}},"y":{"field":"p","type":"quantitative","scale":{"domain":[2,5.66],"range":[32.58,0],"clamp":true,"nice":false,"zero":false},"axis":null},"y2":{"datum":2}}},
  {"mark":{"type":"area","color":"#007a00"},"encoding":{"x":{"field":"i","type":"quantitative"},"y":{"field":"p","type":"quantitative","scale":{"domain":[-4,-2],"range":[86,68.19],"clamp":true,"nice":false,"zero":false},"axis":null},"y2":{"datum":-2}}},
  {"data":{"values":[{"k":0}]},"mark":{"type":"rule","color":"#8b0000","strokeWidth":1},"encoding":{"y":{"datum":2,"scale":{"domain":[-4,5.66],"nice":false,"zero":false},"axis":null}}},
  {"data":{"values":[{"k":0}]},"mark":{"type":"rule","color":"#007000","strokeWidth":1},"encoding":{"y":{"datum":-2,"scale":{"domain":[-4,5.66],"nice":false,"zero":false},"axis":null}}},
  {"mark":{"type":"line","color":"#3a66c4","strokeWidth":1.3},"encoding":{"x":{"field":"i","type":"quantitative","scale":{"domain":[-0.44,117.22],"nice":false,"zero":false},"axis":{"values":[18.26,38.3,58.53,77.74,96.7,116.97],"grid":true,"gridColor":"#cfcfcf","labels":true,"ticks":true,"tickSize":3,"tickColor":"#8c8c8c","domain":false,"title":null,"labelFont":"Liberation Sans","labelFontSize":10.5,"labelColor":"#000000","labelPadding":2,"labelFlush":false,"labelOverlap":false,"labelExpr":"datum.value < 20 ? 'Nov 09' : datum.value < 40 ? 'Dec' : datum.value < 60 ? 'Jan 10' : datum.value < 80 ? 'Feb' : datum.value < 100 ? 'Mar' : 'Apr'","labelFontWeight":{"condition":{"test":"datum.value < 20 || (datum.value > 50 && datum.value < 60)","value":"bold"},"value":"normal"}}},"y":{"field":"p","type":"quantitative","scale":{"domain":[-4,5.66],"nice":false,"zero":false},"axis":{"orient":"right","values":[-4,-2,0,2,4],"format":"d","grid":true,"gridColor":"#d8d8d8","domain":false,"tickSize":3,"tickColor":"#8c8c8c","labelFont":"Liberation Sans","labelFontSize":10.5,"labelColor":{"condition":{"test":"datum.value === 2","value":"#8b0000"},"value":"#000000"},"labelPadding":2,"labelOverlap":false,"labelFlush":false,"title":null}}}},
  {"data":{"values":[{"k":0}]},"mark":{"type":"rule","color":"#d4d4d4","strokeWidth":14,"opacity":0.7},"encoding":{"y":{"datum":4.84,"scale":{"domain":[-4,5.66],"nice":false,"zero":false},"axis":null}}},
  {"data":{"values":[{"k":0}]},"mark":{"type":"point","shape":"circle","size":640,"filled":false,"color":"#000000","strokeWidth":1,"opacity":1},"encoding":{"x":{"datum":107.3},"y":{"datum":-1.9,"scale":{"domain":[-4,5.66],"nice":false,"zero":false},"axis":null}}},
  {"data":{"values":[{"i":104.5,"v":-2.97},{"i":119.4,"v":0.07}]},"mark":{"type":"line","color":"#ff0000","strokeWidth":2.5},"encoding":{"x":{"field":"i","type":"quantitative"},"y":{"field":"v","type":"quantitative","scale":{"domain":[-4,5.66],"nice":false,"zero":false},"axis":null}}},
  {"data":{"values":[{"k":0}]},"mark":{"type":"point","shape":"square","size":40,"filled":true,"color":"#2050b0","opacity":1},"encoding":{"x":{"datum":0.95},"y":{"datum":4.84,"scale":{"domain":[-4,5.66],"nice":false,"zero":false},"axis":null}}},
  {"data":{"values":[{"k":0}]},"mark":{"type":"text","align":"left","baseline":"middle","font":"Liberation Sans","fontSize":10.5,"color":"#111111","text":"TD Plurality (8): 0.25"},"encoding":{"x":{"datum":2.3},"y":{"datum":4.84,"scale":{"domain":[-4,5.66],"nice":false,"zero":false},"axis":null}}}
 ]}
]
}
